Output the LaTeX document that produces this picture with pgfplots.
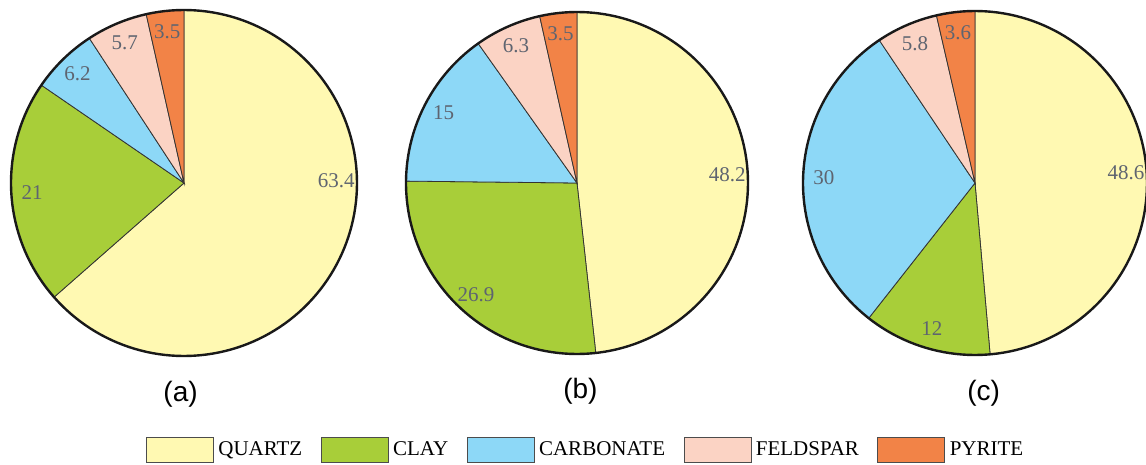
\documentclass[border=0pt]{standalone}
\usepackage{pgfplots}
\usepackage{pgfplotstable}
\pgfplotsset{compat=1.18}
\usepackage{fontspec}
\setmainfont{Liberation Serif}
\newfontfamily\panelfont{Liberation Sans}

% mineral composition (%) of the three samples
\pgfplotstableread{
mineral   a    b    c
QUARTZ    63.4 48.2 48.6
CLAY      21   26.9 12
CARBONATE 6.2  15   30
FELDSPAR  5.7  6.3  5.8
PYRITE    3.5  3.5  3.6
}\minerals

\definecolor{cQuartz}{HTML}{FFF9B2}
\definecolor{cClay}{HTML}{A8CE39}
\definecolor{cCarb}{HTML}{8DD8F7}
\definecolor{cFeld}{HTML}{FBD3C4}
\definecolor{cPyr}{HTML}{F28347}
\definecolor{cLabel}{HTML}{5E6470}

\tikzset{
  slice0/.style={fill=cQuartz, draw=black!80, line width=0.8pt},
  slice1/.style={fill=cClay,   draw=black!80, line width=0.8pt},
  slice2/.style={fill=cCarb,   draw=black!80, line width=0.8pt},
  slice3/.style={fill=cFeld,   draw=black!80, line width=0.8pt},
  slice4/.style={fill=cPyr,    draw=black!80, line width=0.8pt},
  pielabel/.style={text=cLabel, font=\fontsize{21}{24}\selectfont, inner sep=0pt},
}

\pgfplotsset{
  pie/.style={
    hide axis, clip=false, enlargelimits=false,
    xmin=-1, xmax=1, ymin=-1, ymax=1,
    anchor=center,
  },
}

% draws one pie from column #1; the first slice's label sits at angle #2
\newcommand{\drawpie}[2]{%
  \pgfmathsetmacro\piesum{0}%
  \pgfplotsforeachungrouped \i in {0,...,4}{%
    \pgfplotstablegetelem{\i}{#1}\of\minerals
    \pgfmathsetmacro\piesum{\piesum+\pgfplotsretval}%
  }%
  \pgfmathsetmacro\piecum{0}%
  \pgfplotsforeachungrouped \i in {0,...,4}{%
    \pgfplotstablegetelem{\i}{#1}\of\minerals
    \let\pieval\pgfplotsretval
    \pgfmathsetmacro\piestart{90-\piecum/\piesum*360}%
    \pgfmathsetmacro\pieend{90-(\piecum+\pieval)/\piesum*360}%
    \pgfmathsetmacro\piemid{(\piestart+\pieend)/2}%
    \ifnum\i=0 \pgfmathsetmacro\piemid{#2}\fi
    \pgfmathsetmacro\piecum{\piecum+\pieval}%
    \pgfmathsetmacro\lx{0.88*cos(\piemid)}%
    \pgfmathsetmacro\ly{0.88*sin(\piemid)}%
    \edef\doslice{\noexpand\addplot[slice\i, domain=\pieend:\piestart, samples=90]
      ({cos(x)},{sin(x)}) -- (axis cs:0,0) -- cycle;}%
    \doslice
    \edef\dolabel{\noexpand\node[pielabel] at (axis cs:\lx,\ly) {\pieval};}%
    \dolabel
  }%
  \addplot[black!90, line width=2.4pt, domain=0:360, samples=180] ({cos(x)},{sin(x)});
}

\begin{document}
\begin{tikzpicture}[x=1pt, y=1pt]

\begin{axis}[pie, x=173pt, y=173pt, at={(184pt,-183pt)}]
  \drawpie{a}{1}
  \node[font=\panelfont\fontsize{28}{30}\selectfont] at (axis cs:-0.02,-1.22) {(a)};
\end{axis}

\begin{axis}[pie, x=171pt, y=171pt, at={(577pt,-183pt)},
  legend columns=5,
  legend style={draw=none, fill=none, at={(axis description cs:0.529,-0.28)}, anchor=center,
    font=\fontsize{21}{24}\selectfont,
    /tikz/every even column/.style={column sep=14pt},
    nodes={inner xsep=4.5pt, inner ysep=2pt}},
  legend image code/.code={\draw[#1, draw=black!70, line width=0.8pt] (0pt,-12.5pt) rectangle (67pt,12.5pt);},
  legend entries={QUARTZ, CLAY, CARBONATE, FELDSPAR, PYRITE},
]
  \drawpie{b}{3}
  \node[font=\panelfont\fontsize{28}{30}\selectfont] at (axis cs:0.02,-1.22) {(b)};
\end{axis}

\begin{axis}[pie, x=172pt, y=172pt, at={(975pt,-183pt)}]
  \drawpie{c}{4}
  \node[font=\panelfont\fontsize{28}{30}\selectfont] at (axis cs:0.05,-1.22) {(c)};
\end{axis}

\pgfresetboundingbox
\path[use as bounding box] (0,0) rectangle (1146,-465);
\end{tikzpicture}
\end{document}
